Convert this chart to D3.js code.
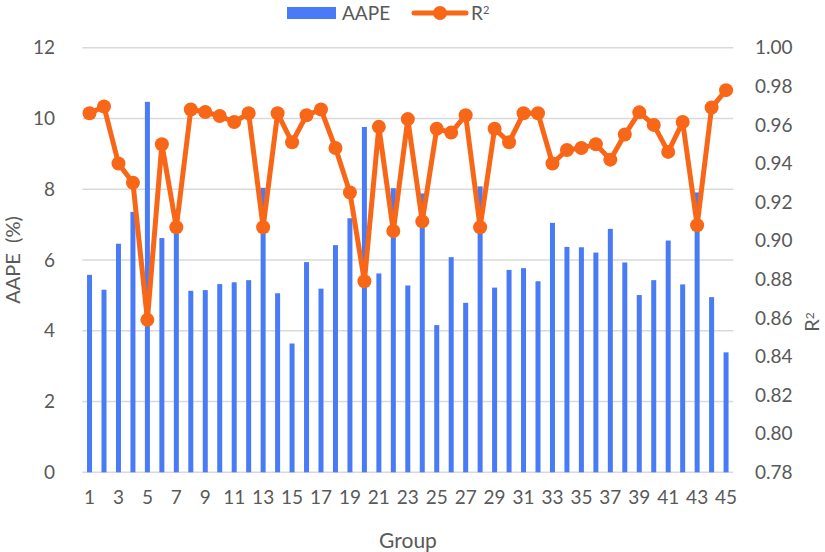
<!DOCTYPE html>
<html>
<head>
<meta charset="utf-8">
<script src="https://cdn.jsdelivr.net/npm/d3@7"></script>
<style>
  body { margin: 0; background: #fff; }
  text { font-family: Lato, "Open Sans", sans-serif; fill: #595959; }
</style>
</head>
<body>
<div id="chart"></div>
<script>
const groups = d3.range(1, 46);
const aape = [5.58, 5.16, 6.46, 7.36, 10.47, 6.62, 7.0, 5.13, 5.15, 5.32,
  5.37, 5.43, 8.04, 5.06, 3.64, 5.94, 5.19, 6.42, 7.18, 9.76,
  5.62, 8.03, 5.28, 7.88, 4.16, 6.08, 4.79, 8.08, 5.22, 5.72,
  5.77, 5.40, 7.05, 6.37, 6.36, 6.21, 6.88, 5.93, 5.01, 5.43,
  6.55, 5.31, 7.91, 4.95, 3.39];
const r2 = [0.966, 0.9695, 0.940, 0.930, 0.859, 0.950, 0.907, 0.968, 0.9667, 0.9646,
  0.9615, 0.966, 0.907, 0.966, 0.951, 0.965, 0.968, 0.948, 0.925, 0.879,
  0.959, 0.905, 0.963, 0.910, 0.958, 0.956, 0.965, 0.907, 0.958, 0.951,
  0.966, 0.966, 0.940, 0.947, 0.948, 0.950, 0.942, 0.955, 0.9665, 0.960,
  0.946, 0.9615, 0.908, 0.969, 0.978];
const leftTicks = [0, 2, 4, 6, 8, 10, 12];
const rightTicks = d3.range(0.78, 1.001, 0.02);

const W = 825, H = 552;
const pLeft = 82.3, pRight = 733.3, pTop = 47.7, pBottom = 472.3;
const blue = "#4A7BF6", orange = "#F86718";

const svg = d3.select("#chart").append("svg")
  .attr("width", W).attr("height", H);

const x = d3.scaleBand().domain(groups).range([pLeft, pRight]);
const yL = d3.scaleLinear().domain([0, 12]).range([pBottom, pTop]);
const yR = d3.scaleLinear().domain([0.78, 1.0]).range([pBottom, pTop]);

// gridlines
svg.append("g").selectAll("line").data(leftTicks).enter().append("line")
  .attr("x1", pLeft).attr("x2", pRight)
  .attr("y1", d => yL(d)).attr("y2", d => yL(d))
  .attr("stroke", "#D9D9D9").attr("stroke-width", 1.5);

// bars
const bw = 5;
svg.append("g").selectAll("rect").data(aape).enter().append("rect")
  .attr("x", (d, i) => x(groups[i]) + x.bandwidth() / 2 - bw / 2)
  .attr("y", d => yL(d))
  .attr("width", bw)
  .attr("height", d => yL(0) - yL(d))
  .attr("fill", blue);

// R2 line
const line = d3.line()
  .x((d, i) => x(groups[i]) + x.bandwidth() / 2)
  .y(d => yR(d));
svg.append("path").datum(r2)
  .attr("d", line)
  .attr("fill", "none").attr("stroke", orange)
  .attr("stroke-width", 5).attr("stroke-linejoin", "round");
svg.append("g").selectAll("circle").data(r2).enter().append("circle")
  .attr("cx", (d, i) => x(groups[i]) + x.bandwidth() / 2)
  .attr("cy", d => yR(d))
  .attr("r", 7).attr("fill", orange);

// left axis labels
svg.append("g").selectAll("text").data(leftTicks).enter().append("text")
  .attr("x", 55).attr("y", d => yL(d))
  .attr("dy", "0.35em").attr("text-anchor", "end")
  .style("font-size", "19px").text(d => d);

// right axis labels
svg.append("g").selectAll("text").data(rightTicks).enter().append("text")
  .attr("x", 755).attr("y", d => yR(d))
  .attr("dy", "0.35em").attr("text-anchor", "start")
  .style("font-size", "19px").text(d => d.toFixed(2));

// x labels (odd groups only)
svg.append("g").selectAll("text").data(groups.filter(g => g % 2 === 1)).enter().append("text")
  .attr("x", d => x(d) + x.bandwidth() / 2).attr("y", 497)
  .attr("dy", "0.35em").attr("text-anchor", "middle")
  .style("font-size", "19px").text(d => d);

// axis titles
svg.append("text")
  .attr("transform", "translate(13,260) rotate(-90)")
  .attr("dy", "0.35em").attr("text-anchor", "middle")
  .style("font-size", "20px").style("white-space", "pre").text("AAPE  (%)");

const r2t = svg.append("text")
  .attr("transform", "translate(812,322) rotate(-90)")
  .attr("dy", "0.35em").attr("text-anchor", "middle")
  .style("font-size", "20px");
r2t.append("tspan").text("R");
r2t.append("tspan").attr("dy", "-0.45em").style("font-size", "12px").text("2");

svg.append("text")
  .attr("x", 408).attr("y", 541)
  .attr("dy", "0.35em").attr("text-anchor", "middle")
  .style("font-size", "21px").text("Group");

// legend
const lg = svg.append("g");
lg.append("rect").attr("x", 287).attr("y", 7).attr("width", 49).attr("height", 12).attr("fill", blue);
lg.append("text").attr("x", 342).attr("y", 13).attr("dy", "0.35em")
  .style("font-size", "19px").text("AAPE");
lg.append("line").attr("x1", 414).attr("x2", 466).attr("y1", 13).attr("y2", 13)
  .attr("stroke", orange).attr("stroke-width", 5).attr("stroke-linecap", "round");
lg.append("circle").attr("cx", 440).attr("cy", 13).attr("r", 7).attr("fill", orange);
const lt = lg.append("text").attr("x", 471).attr("y", 13).attr("dy", "0.35em")
  .style("font-size", "19px");
lt.append("tspan").text("R");
lt.append("tspan").attr("dy", "-0.5em").style("font-size", "11px").text("2");
</script>
</body>
</html>
